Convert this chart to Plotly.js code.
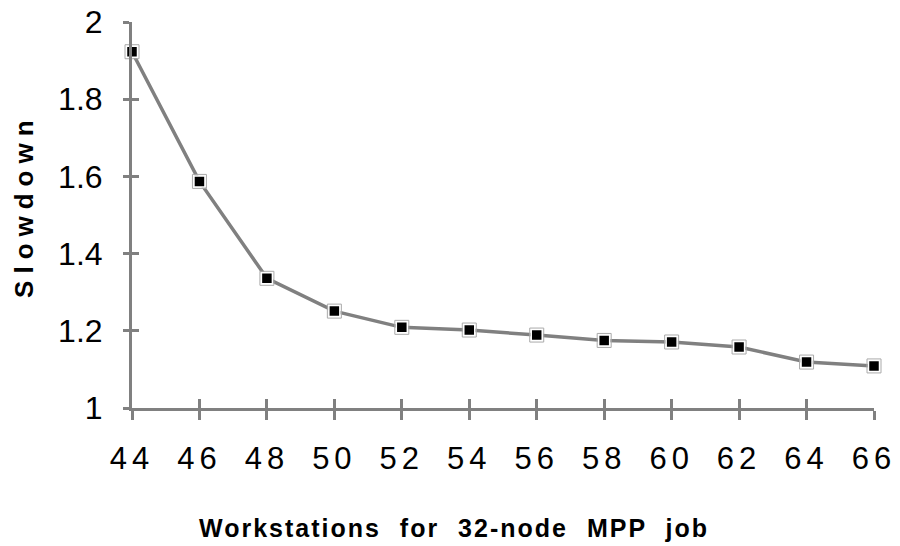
<!DOCTYPE html>
<html><head><meta charset="utf-8">
<script src="https://cdn.plot.ly/plotly-3.0.1.min.js"></script>
<style>
html,body{margin:0;padding:0;background:#fff;}
#chart{width:900px;height:546px;}
.xtick text{letter-spacing:5px;}
</style></head><body><div id="chart"></div>
<script>
const workstations = [44, 46, 48, 50, 52, 54, 56, 58, 60, 62, 64, 66];
const slowdown = [1.923, 1.587, 1.336, 1.251, 1.209, 1.202, 1.189, 1.175, 1.171, 1.158, 1.119, 1.109];
const xTickVals = [44, 46, 48, 50, 52, 54, 56, 58, 60, 62, 64, 66];
const yTickVals = [1, 1.2, 1.4, 1.6, 1.8, 2];
const yTickText = ['1', '1.2', '1.4', '1.6', '1.8', '2'];
const xTitle = 'Workstations for 32-node MPP job';
const yTitle = 'Slowdown';

const FONT = 'Arial, "Liberation Sans", sans-serif';
const AX = '#808080';

const traces = [
  {
    x: workstations, y: slowdown, type: 'scatter', mode: 'lines+markers',
    line: {color: AX, width: 3.5},
    marker: {symbol: 'square', size: 11, color: '#000', line: {color: '#fff', width: 1.5}},
    cliponaxis: false, hoverinfo: 'skip', showlegend: false
  },
  {
    x: workstations, y: slowdown, type: 'scatter', mode: 'markers',
    marker: {symbol: 'square-open', size: 14, color: '#aaa', line: {color: '#aaa', width: 1}},
    cliponaxis: false, hoverinfo: 'skip', showlegend: false
  },
  {
    x: workstations, y: slowdown, xaxis: 'x2', yaxis: 'y2', type: 'scatter', mode: 'markers',
    marker: {opacity: 0}, hoverinfo: 'skip', showlegend: false
  }
];

const baseAxis = {
  showgrid: false, zeroline: false, showline: true, linecolor: AX, linewidth: 3,
  tickcolor: AX, tickwidth: 3, fixedrange: true
};

const layout = {
  width: 900, height: 546,
  margin: {l: 132, r: 26, t: 22, b: 138},
  paper_bgcolor: '#fff', plot_bgcolor: 'rgba(0,0,0,0)',
  showlegend: false,
  xaxis: Object.assign({}, baseAxis, {
    range: [44, 66], tickmode: 'array', tickvals: xTickVals,
    ticks: 'outside', ticklen: 9, ticklabelstandoff: 12,
    tickfont: {family: FONT, size: 31, color: '#000'}
  }),
  yaxis: Object.assign({}, baseAxis, {
    range: [1, 2], tickmode: 'array', tickvals: yTickVals, ticktext: yTickText,
    ticks: 'outside', ticklen: 6, ticklabelstandoff: 14,
    tickfont: {family: FONT, size: 32, color: '#000'}
  }),
  xaxis2: Object.assign({}, baseAxis, {
    range: [44, 66], overlaying: 'x', anchor: 'y2', side: 'bottom',
    tickmode: 'array', tickvals: xTickVals, ticks: 'inside', ticklen: 9, showticklabels: false
  }),
  yaxis2: Object.assign({}, baseAxis, {
    range: [1, 2], overlaying: 'y', anchor: 'x2', side: 'left',
    tickmode: 'array', tickvals: yTickVals, ticks: 'inside', ticklen: 7, showticklabels: false
  }),
  annotations: [
    {
      text: yTitle, xref: 'paper', yref: 'paper', x: -0.1456, y: 0.526,
      xanchor: 'center', yanchor: 'middle', textangle: -90, showarrow: false,
      font: {family: FONT, size: 26, color: '#000', weight: 'bold'}
    },
    {
      text: xTitle, xref: 'paper', yref: 'paper', x: 0.4333, y: -0.311,
      xanchor: 'center', yanchor: 'middle', showarrow: false,
      font: {family: FONT, size: 25, color: '#000', weight: 'bold'}
    }
  ]
};

Plotly.newPlot('chart', traces, layout, {staticPlot: true, displayModeBar: false}).then(function (gd) {
  const anns = gd.querySelectorAll('.annotation-text');
  if (anns[0]) anns[0].style.letterSpacing = '7px';
  if (anns[1]) { anns[1].style.letterSpacing = '2px'; anns[1].style.wordSpacing = '10px'; }
});
</script></body></html>
